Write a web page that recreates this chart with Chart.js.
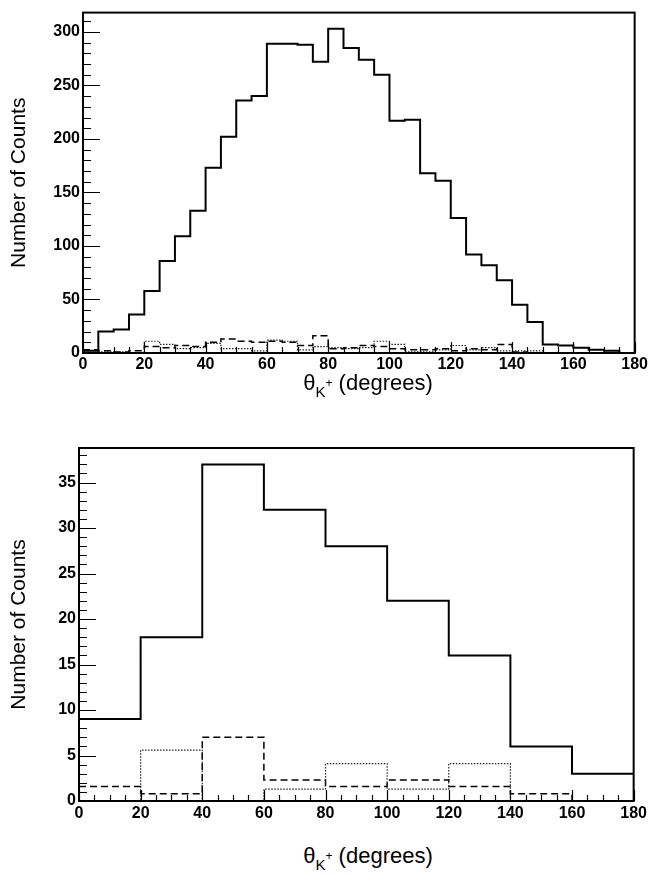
<!DOCTYPE html>
<html>
<head>
<meta charset="utf-8">
<script src="https://cdn.jsdelivr.net/npm/chart.js@4.4.1/dist/chart.umd.min.js"></script>
<style>
  html, body { margin: 0; padding: 0; background: #fff; overflow: hidden; }
  #wrap { position: relative; width: 650px; height: 875px; }
  canvas { position: absolute; left: 0; }
  .xt { position: absolute; left: 258px; width: 220px; text-align: center;
        font-family: 'Liberation Sans', Arial, sans-serif; font-size: 22px; line-height: 22px; color: #000; white-space: nowrap; }
  .xt sub { font-size: 15px; vertical-align: -7px; }
  .xt sub sup { font-size: 12px; vertical-align: 10px; }
</style>
</head>
<body>
<div id="wrap">
  <canvas id="top" width="650" height="375" style="top:0px"></canvas>
  <div class="xt" style="top:372px">θ<sub>K<sup>+</sup></sub> (degrees)</div>
  <canvas id="bottom" width="650" height="392" style="top:430px"></canvas>
  <div class="xt" style="top:845px">θ<sub>K<sup>+</sup></sub> (degrees)</div>
</div>
<script>
// bin edges (degrees)
const topEdges = [0,5,10,15,20,25,30,35,40,45,50,55,60,65,70,75,80,85,90,95,100,
                  105,110,115,120,125,130,135,140,145,150,155,160,165,170,175,180];
const bottomEdges = [0,20,40,60,80,100,120,140,160,180];

// top histogram, counts per 5 degree bin
const topSolid  = [2,20,22,36,58,86,109,133,173,202,236,240,289,289,288,272,303,285,274,260,
                   217,218,168,161,126,92,82,68,45,29,8,7,5,3,2,0];
const topDashed = [3,2,1,2,6,5,7,6,10,13,11,10,11,10,7,16,4,5,7,6,
                   4,3,3,4,2,4,3,8,1,0,0,0,0,0,0,0];
const topDotted = [1,1,1,0,11,8,4,5,9,4,4,2,12,11,3,6,5,4,5,11,
                   8,1,1,3,7,3,5,2,2,2,0,0,0,0,0,0];

// bottom histogram, counts per 20 degree bin
const bottomSolid  = [9,18,37,32,28,22,16,6,3];
const bottomDashed = [1.6,0.8,7,2.3,1.6,2.3,1.6,0.8,0];
const bottomDotted = [0,5.6,0,1.3,4.1,1.3,4.1,0,0];

const FONT = "'Liberation Sans', Arial, Helvetica, sans-serif";
Chart.defaults.font.family = FONT;
Chart.defaults.color = '#000';

function histPoints(edges, vals) {
  const pts = vals.map((v, i) => ({ x: edges[i], y: v }));
  pts.push({ x: edges[vals.length], y: vals[vals.length - 1] });
  return pts;
}

// ROOT style frame with ticks drawn inside the frame
const rootAxes = {
  id: 'rootAxes',
  afterDatasetsDraw(chart, args, o) {
    const { ctx, chartArea: a, scales: { x, y } } = chart;
    ctx.save();
    ctx.strokeStyle = '#000';
    ctx.lineWidth = 1.2;
    ctx.beginPath();
    for (let i = 0; i * o.yMinor <= o.yMax; i++) {
      const v = i * o.yMinor;
      const py = Math.round(y.getPixelForValue(v)) + 0.5;
      const major = i % o.yPer === 0;
      ctx.moveTo(a.left, py);
      ctx.lineTo(a.left + (major ? 17 : 8), py);
    }
    for (let i = 0; i * o.xMinor <= 180; i++) {
      const v = i * o.xMinor;
      const px = Math.round(x.getPixelForValue(v)) + 0.5;
      const major = i % o.xPer === 0;
      ctx.moveTo(px, a.bottom);
      ctx.lineTo(px, a.bottom - (major ? 11 : 6));
    }
    ctx.stroke();
    ctx.lineWidth = 2;
    ctx.strokeRect(a.left, a.top, a.right - a.left, a.bottom - a.top);
    ctx.restore();
  }
};

function makeChart(id, edges, solid, dashed, dotted, cfg) {
  new Chart(document.getElementById(id), {
    type: 'line',
    data: {
      datasets: [
        { data: histPoints(edges, dotted), borderColor: '#222', borderWidth: 1.2, borderDash: [1.5, 1.5] },
        { data: histPoints(edges, dashed), borderColor: '#000', borderWidth: 1.5, borderDash: [7, 4] },
        { data: histPoints(edges, solid), borderColor: '#000', borderWidth: 2 }
      ]
    },
    options: {
      responsive: false,
      animation: false,
      elements: { point: { radius: 0 }, line: { stepped: 'before', tension: 0 } },
      layout: { padding: { top: cfg.padTop, right: cfg.padRight, left: 0, bottom: 0 } },
      plugins: { legend: { display: false }, tooltip: { enabled: false }, rootAxes: cfg.ticks },
      scales: {
        x: {
          type: 'linear', min: 0, max: 180,
          grid: { display: false, drawTicks: false }, border: { display: false },
          ticks: { stepSize: 20, padding: cfg.xPad, font: { size: 16, weight: 'bold' }, maxRotation: 0 },
          afterFit: s => { s.height = cfg.xH; }
        },
        y: {
          min: 0, max: cfg.yMax,
          grid: { display: false, drawTicks: false }, border: { display: false },
          ticks: { stepSize: cfg.yStep, includeBounds: false, padding: 3, font: { size: 16, weight: 'bold' } },
          title: { display: true, text: 'Number of Counts', font: { size: 21 }, padding: { top: 7, bottom: 0 } },
          afterFit: s => { s.width = cfg.yW; }
        }
      }
    },
    plugins: [rootAxes]
  });
}

makeChart('top', topEdges, topSolid, topDashed, topDotted, {
  padTop: 4, padRight: 12, xH: 22, yW: 83, yMax: 318, yStep: 50, xPad: 2,
  ticks: { yMax: 318, yMinor: 10, yPer: 5, xMinor: 5, xPer: 4 }
});

makeChart('bottom', bottomEdges, bottomSolid, bottomDashed, bottomDotted, {
  padTop: 18, padRight: 16, xH: 21, yW: 79, yMax: 38.8, yStep: 5, xPad: 3,
  ticks: { yMax: 38.8, yMinor: 1, yPer: 5, xMinor: 5, xPer: 4 }
});
</script>
</body>
</html>
